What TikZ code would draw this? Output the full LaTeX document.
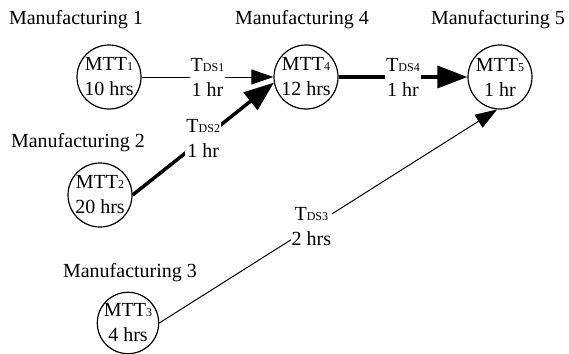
\documentclass[tikz,border=0pt]{standalone}
\usepackage{fontspec}
\setmainfont{Liberation Serif}
\usetikzlibrary{arrows.meta}
\newcommand{\sml}[1]{{\fontsize{12}{12}\selectfont #1}}
\begin{document}
\begin{tikzpicture}[x=1pt, y=-1pt, font=\fontsize{20}{25}\selectfont,
	main/.style = {draw, circle, line width=1.2pt, minimum size=64pt, inner sep=0pt, align=center},
	lbl/.style = {fill=white, inner sep=1pt, align=center},
	thin/.style = {line width=1pt, -{Triangle[length=22pt, width=15pt]}},
	thick/.style = {line width=3.5pt, -{Triangle[length=30pt, width=22pt]}}]
			\useasboundingbox (0,0) rectangle (569,353);
			\node[main] (1) at (109,77) {MTT\sml{1}\\10 hrs};
			\node (t1) at (76,20) {Manufacturing 1};
			\node[main] (2) at (100,195) {MTT\sml{2}\\20 hrs};
			\node (t2) at (78,143) {Manufacturing 2};
			\node[main, minimum size=60pt] (3) at (128,323) {MTT\sml{3}\\4 hrs};
			\node (t3) at (130,273) {Manufacturing 3};
			\node[main] (4) at (306,77) {MTT\sml{4}\\12 hrs};
			\node (t4) at (302,20) {Manufacturing 4};
			\node[main] (5) at (500,77) {MTT\sml{5}\\1 hr};
			\node (t5) at (498,20) {Manufacturing 5};
			\draw[thin] (1.east) -- node[lbl] {T\sml{DS1}\\1 hr} (4.west);
			\draw[thick] (2.east) -- node[lbl] {T\sml{DS2}\\1 hr} (4.190);
			\draw[thick] (4.east) -- node[lbl] {T\sml{DS4}\\1 hr} (5.west);
			\draw[thin] (3.east) -- node[lbl, pos=0.45] {T\sml{DS3}\\2 hrs} (5.265);
		\end{tikzpicture}
\end{document}
